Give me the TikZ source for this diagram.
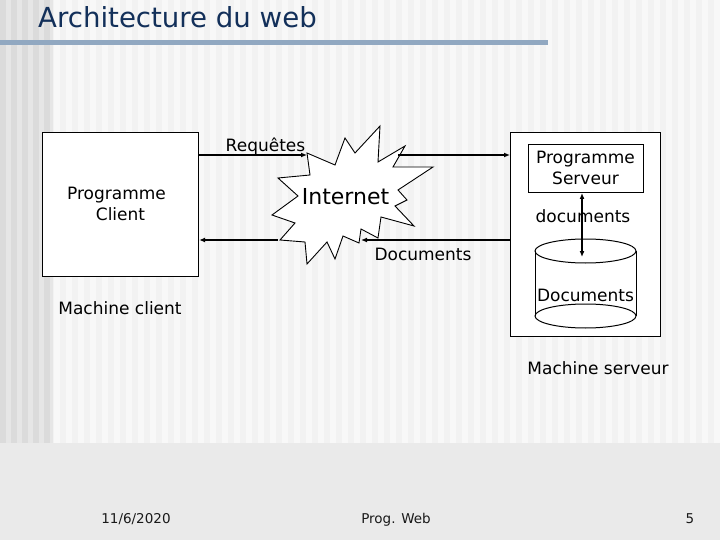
\documentclass[tikz,border=0pt]{standalone}
\usepackage{fontspec}
\setmainfont{DejaVu Sans}
\usetikzlibrary{arrows.meta}
\definecolor{titleblue}{HTML}{13305A}
\definecolor{barblue}{HTML}{91A8C1}
\definecolor{footgray}{HTML}{EAEAEA}
\definecolor{slidebg}{HTML}{F2F2F2}
\definecolor{stripe}{HTML}{F8F8F8}
\definecolor{leftbg}{HTML}{E6E6E6}
\definecolor{leftstripe}{HTML}{DBDBDB}
\begin{document}
\begin{tikzpicture}[x=1pt,y=-1pt,
  lbl/.style={font=\fontsize{17}{20}\selectfont, inner sep=0pt, anchor=base},
  foot/.style={font=\fontsize{13.5}{16}\selectfont, inner sep=0pt, anchor=base, text=black!90},
  box/.style={draw=black, line width=1.2pt, fill=white, inner sep=0pt, anchor=north west},
  conn/.style={line width=1.3pt, -{Latex[length=6pt,width=5pt]}},
  dconn/.style={line width=1.3pt, {Latex[length=6pt,width=5pt]}-{Latex[length=6pt,width=5pt]}},
]
\useasboundingbox (0,0) rectangle (720,540);
% background
\fill[footgray] (0,0) rectangle (720,540);
\fill[slidebg] (0,0) rectangle (720,443);
\foreach \i in {0,...,59} \fill[stripe] (\i*12+6,0) rectangle (\i*12+12,443);
\fill[leftbg] (0,0) rectangle (53,443);
\foreach \i in {0,...,4} \fill[leftstripe] (\i*11,0) rectangle (\i*11+5.5,443);
% title
\fill[barblue] (0,40) rectangle (548,45.5);
\node[anchor=base west, inner sep=0pt, text=titleblue, font=\fontsize{27.6}{30}\selectfont] (title) at (38,27.5) {Architecture du web};

% client machine
\node[box, minimum width=156pt, minimum height=144pt] (client) at (42,132) {};
\node[lbl] (clientA) at (116.5,200) {Programme};
\node[lbl] (clientB) at (120.5,221) {Client};
\node[lbl] (mclient) at (120,314) {Machine client};

% server machine
\node[box, minimum width=150pt, minimum height=204pt] (server) at (510,132) {};
\node[box, line width=1pt, minimum width=115pt, minimum height=48pt] (progserv) at (528,144) {};
\node[lbl] (servA) at (585.5,164) {Programme};
\node[lbl] (servB) at (585.5,185) {Serveur};
\node[lbl] (mserv) at (598,374) {Machine serveur};

% database cylinder
\fill[white] (535,251) rectangle (636,316);
\fill[white] (585.5,316) ellipse [x radius=50.5, y radius=12];
\draw[line width=1pt, fill=white] (585.5,251) ellipse [x radius=50.5, y radius=12];
\draw[line width=1pt] (535,251) -- (535,316) (636,251) -- (636,316);
\draw[line width=1pt] (585.5,316) ellipse [x radius=50.5, y radius=12];
\node[lbl] (dbtxt) at (585.5,301) {Documents};
\coordinate (dbin) at (582,257);
\draw[dconn] (progserv.south -| dbin) -- (dbin);
\node[lbl] (doclow) at (583,222.5) {documents};

% internet explosion
\draw[line width=0.9pt, fill=white, line join=miter]
  (307,153) -- (335,165) -- (345,138) -- (355,153) -- (380,126) -- (378,162)
  -- (405,146) -- (393,167) -- (433,167) -- (398,190) -- (407,200) -- (395,206)
  -- (414,226) -- (381,217) -- (378,238) -- (361,229) -- (359,243) -- (343,236)
  -- (335,259) -- (327,242) -- (307,264) -- (305,242) -- (280,240) -- (295,223)
  -- (272,215) -- (298,196) -- (278,178) -- (310,175) -- cycle;
\node[font=\fontsize{22}{24}\selectfont, inner sep=0pt, anchor=base] (internet) at (345.5,205) {Internet};

% connectors
\coordinate (ytop) at (0,155);
\coordinate (ybot) at (0,240);
\coordinate (expTopIn) at (307,155);
\coordinate (expTopOut) at (398,155);
\coordinate (expBotIn) at (361,240);
\coordinate (expBotOut) at (278,240);
\draw[conn] (client.east |- ytop) -- (expTopIn);
\draw[conn] (expTopOut) -- (server.west |- ytop);
\draw[conn] (server.west |- ybot) -- (expBotIn);
\draw[conn] (expBotOut) -- (client.east |- ybot);
\node[lbl] (req) at (265.5,151.5) {Requêtes};
\node[lbl] (docs) at (423,260) {Documents};

% footer
\node[foot] (date) at (136,523) {11/6/2020};
\node[foot] (course) at (396,523) {Prog. Web};
\node[foot] (page) at (690,523) {5};
\end{tikzpicture}
\end{document}
